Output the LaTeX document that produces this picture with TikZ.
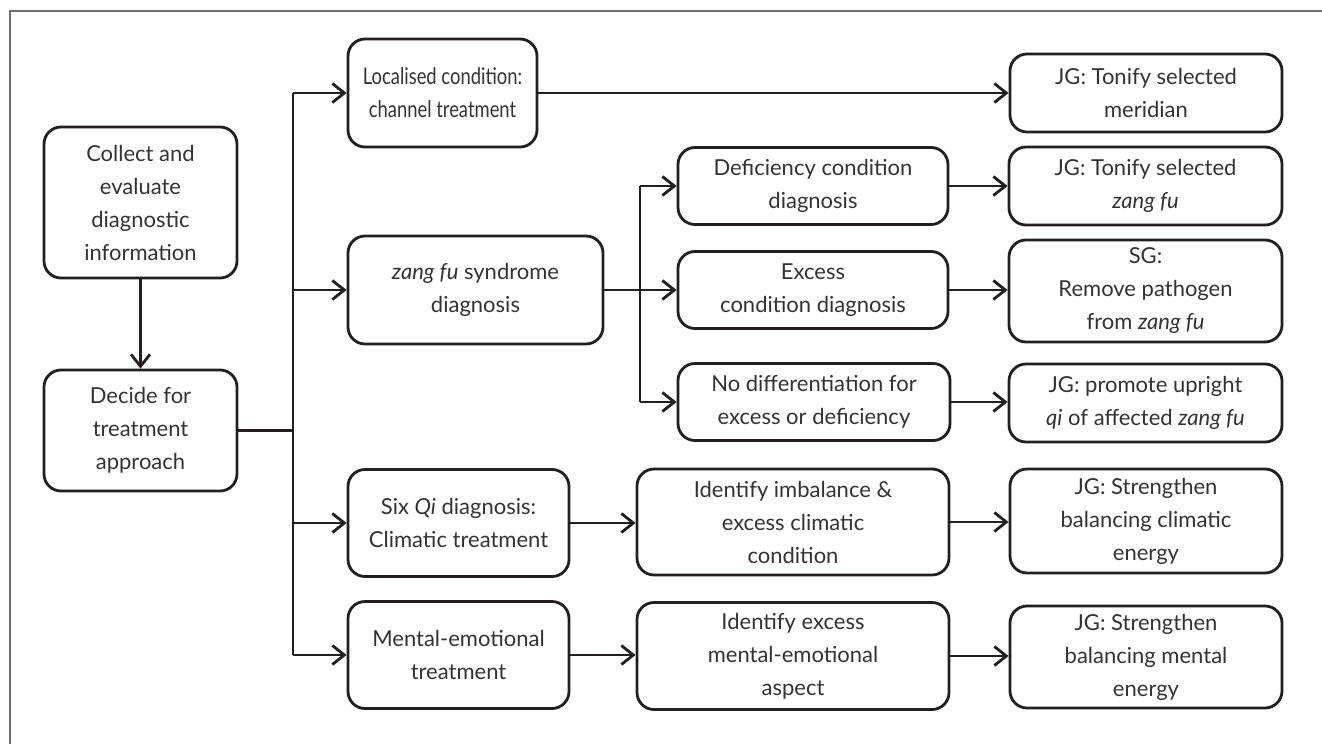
\documentclass[tikz,border=0pt]{standalone}
\usepackage{fontspec}
\setmainfont{Lato}
\usetikzlibrary{arrows.meta}
\definecolor{linegray}{HTML}{231F20}
\definecolor{framegray}{HTML}{6D6E71}
\definecolor{textgray}{HTML}{333333}
\begin{document}
\begin{tikzpicture}[x=0.5pt,y=-0.5pt,
  main_box/.style={draw=linegray,line width=1.4pt,rounded corners=8.5pt,align=center,text=textgray,inner sep=2pt,font=\fontsize{11}{16.5}\selectfont},
  main_arrow/.style={draw=linegray,line width=1.4pt,-{Straight Barb[length=6pt,width=9.5pt]}},
  main_line/.style={draw=linegray,line width=1.4pt}]

    \useasboundingbox (0,0) rectangle (1322,744);
    \draw[framegray,line width=0.75pt] (10,744) -- (10,11) -- (1322,11);

    \node[main_box,minimum width=96.5pt,minimum height=75.5pt] (collect) at (140.5,202.5) {Collect and\\evaluate\\diagnostic\\information};
    \node[main_box,minimum width=96.5pt,minimum height=60.5pt] (decide) at (140.5,430.5) {Decide for\\treatment\\approach};

    \node[main_box,minimum width=94.5pt,minimum height=54pt,font=\fontsize{11.5}{16.5}\selectfont\addfontfeatures{FakeStretch=0.8}] (local) at (442.5,93) {Localised condition:\\channel treatment};
    \node[main_box,minimum width=127.5pt,minimum height=54pt] (zangfu) at (475.5,290) {\textit{zang fu} syndrome\\diagnosis};
    \node[main_box,minimum width=110.5pt,minimum height=53.5pt] (sixqi) at (458.5,523) {Six \textit{Qi} diagnosis:\\Climatic treatment};
    \node[main_box,minimum width=110.5pt,minimum height=53.5pt] (mental) at (458.5,655) {Mental-emotional\\treatment};

    \node[main_box,minimum width=135pt,minimum height=38.5pt] (defic) at (813,186) {Deficiency condition\\diagnosis};
    \node[main_box,minimum width=135pt,minimum height=38.5pt] (excess) at (813,290) {Excess\\condition diagnosis};
    \node[main_box,minimum width=136pt,minimum height=38.5pt] (nodiff) at (814,402) {No differentiation for\\excess or deficiency};
    \node[main_box,minimum width=156pt,minimum height=53pt] (identimb) at (793,522) {Identify imbalance \&\\excess climatic\\condition};
    \node[main_box,minimum width=156pt,minimum height=53.5pt] (identexc) at (793,656) {Identify excess\\mental-emotional\\aspect};

    \node[main_box,minimum width=136pt,minimum height=39pt] (jgmer) at (1146,93) {JG: Tonify selected\\meridian};
    \node[main_box,minimum width=136.5pt,minimum height=39pt] (jgzang) at (1145.5,186) {JG: Tonify selected\\\textit{zang fu}};
    \node[main_box,minimum width=136.5pt,minimum height=51pt] (sgpath) at (1145.5,291) {SG:\\Remove pathogen\\from \textit{zang fu}};
    \node[main_box,minimum width=136.5pt,minimum height=39pt] (jgqi) at (1145.5,403) {JG: promote upright\\\textit{qi} of affected \textit{zang fu}};
    \node[main_box,minimum width=136pt,minimum height=52pt] (jgclim) at (1146,521) {JG: Strengthen\\balancing climatic\\energy};
    \node[main_box,minimum width=136pt,minimum height=51pt] (jgment) at (1146,657) {JG: Strengthen\\balancing mental\\energy};

    \draw[main_arrow] (collect) -- (decide);

    \coordinate (split) at (293,430.5);
    \draw[main_line] (decide.east) -- (split);
    \draw[main_line] (split |- local) -- (split |- mental);
    \draw[main_arrow] (split |- local) -- (local);
    \draw[main_arrow] (split |- zangfu) -- (zangfu);
    \draw[main_arrow] (split |- sixqi) -- (sixqi);
    \draw[main_arrow] (split |- mental) -- (mental);

    \coordinate (subsplit) at (640,290);
    \draw[main_line] (zangfu.east) -- (subsplit);
    \draw[main_line] (subsplit |- defic) -- (subsplit |- nodiff);
    \draw[main_arrow] (subsplit |- defic) -- (defic);
    \draw[main_arrow] (subsplit) -- (excess);
    \draw[main_arrow] (subsplit |- nodiff) -- (nodiff);

    \draw[main_arrow] (local) -- (jgmer);
    \draw[main_arrow] (defic) -- (jgzang);
    \draw[main_arrow] (excess.east) -- (sgpath.west |- excess.east);
    \draw[main_arrow] (nodiff.east) -- (jgqi.west |- nodiff.east);
    \draw[main_arrow] (sixqi.east) -- (identimb.west |- sixqi.east);
    \draw[main_arrow] (mental.east) -- (identexc.west |- mental.east);
    \draw[main_arrow] (identimb.east) -- (jgclim.west |- identimb.east);
    \draw[main_arrow] (identexc.east) -- (jgment.west |- identexc.east);
\end{tikzpicture}
\end{document}
